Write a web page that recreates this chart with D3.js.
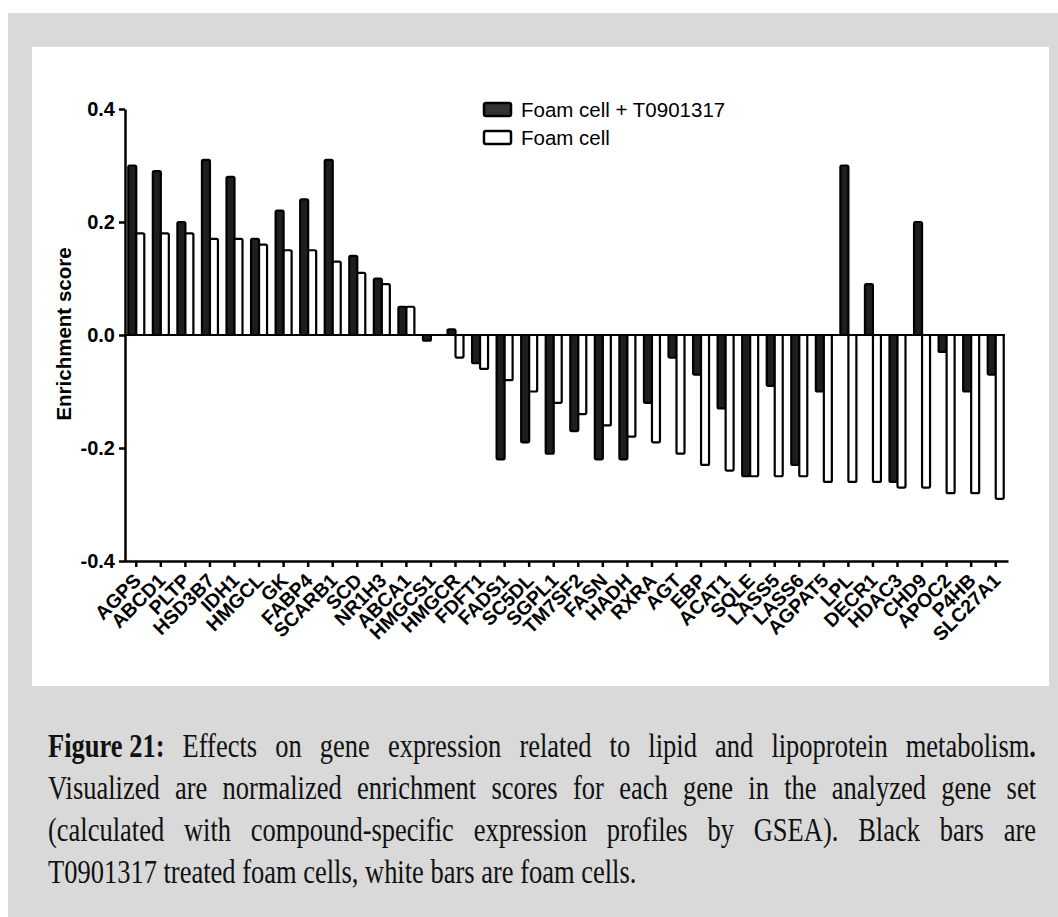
<!DOCTYPE html>
<html>
<head>
<meta charset="utf-8">
<script src="https://cdnjs.cloudflare.com/ajax/libs/d3/7.8.5/d3.min.js"></script>
<style>
body{ margin:0; padding:0; background:#fff; }
svg{ display:block; }
.chart text{ font-family:"Liberation Sans", Arial, sans-serif; }
.caption text{ font-family:"Liberation Serif", "Times New Roman", serif; }
</style>
</head>
<body>
<div id="fig"></div>
<script>
var genes = ["AGPS","ABCD1","PLTP","HSD3B7","IDH1","HMGCL","GK","FABP4","SCARB1","SCD","NR1H3","ABCA1",
    "HMGCS1","HMGCR","FDFT1","FADS1","SC5DL","SGPL1","TM7SF2","FASN","HADH","RXRA","AGT","EBP",
    "ACAT1","SQLE","LASS5","LASS6","AGPAT5","LPL","DECR1","HDAC3","CHD9","APOC2","P4HB","SLC27A1"];
// black bars
var treated = [0.30,0.29,0.20,0.31,0.28,0.17,0.22,0.24,0.31,0.14,0.10,0.05,
    -0.01,0.01,-0.05,-0.22,-0.19,-0.21,-0.17,-0.22,-0.22,-0.12,-0.04,-0.07,
    -0.13,-0.25,-0.09,-0.23,-0.10,0.30,0.09,-0.26,0.20,-0.03,-0.10,-0.07];
// white bars
var foam = [0.18,0.18,0.18,0.17,0.17,0.16,0.15,0.15,0.13,0.11,0.09,0.05,
    0.00,-0.04,-0.06,-0.08,-0.10,-0.12,-0.14,-0.16,-0.18,-0.19,-0.21,-0.23,
    -0.24,-0.25,-0.25,-0.25,-0.26,-0.26,-0.26,-0.27,-0.27,-0.28,-0.28,-0.29];
var yTicks = [-0.4,-0.2,0.0,0.2,0.4];
var seriesNames = ["Foam cell + T0901317","Foam cell"];
var captionLines = [
    [["Figure 21:",1],["Effects",0],["on",0],["gene",0],["expression",0],["related",0],["to",0],["lipid",0],["and",0],["lipoprotein",0],["metabolism",0,"."]],
    [["Visualized",0],["are",0],["normalized",0],["enrichment",0],["scores",0],["for",0],["each",0],["gene",0],["in",0],["the",0],["analyzed",0],["gene",0],["set",0]],
    [["(calculated",0],["with",0],["compound-specific",0],["expression",0],["profiles",0],["by",0],["GSEA).",0],["Black",0],["bars",0],["are",0]],
    [["T0901317 treated foam cells, white bars are foam cells.",0]]
];

var W = 1058, H = 917;
var svg = d3.select("#fig").append("svg").attr("width", W).attr("height", H);
svg.append("rect").attr("x", 8).attr("y", 13).attr("width", W-8).attr("height", H-13).attr("fill", "#d9d9d9");
svg.append("rect").attr("x", 32).attr("y", 47).attr("width", 1017).attr("height", 639).attr("fill", "#fff");

var g = svg.append("g").attr("class", "chart");
var x = d3.scaleBand().domain(genes).range([124, 1008]);
var y = d3.scaleLinear().domain([-0.4, 0.4]).range([561, 109]);
var bw = 8;

// zero line
g.append("line").attr("x1", 125).attr("x2", 1005).attr("y1", y(0)).attr("y2", y(0))
    .attr("stroke", "#000").attr("stroke-width", 2.2);

function bars(vals, cls, fill, off){
    g.selectAll("rect." + cls).data(vals).enter().append("rect")
        .attr("class", cls)
        .attr("x", function(d, i){ return x(genes[i]) + x.bandwidth()/2 + off; })
        .attr("y", function(d){ return Math.min(y(d), y(0)); })
        .attr("width", bw)
        .attr("height", function(d){ return Math.abs(y(d) - y(0)); })
        .attr("rx", 1.5)
        .attr("fill", fill).attr("stroke", "#000").attr("stroke-width", 2.2);
}
bars(treated, "t", "#1e1e1e", -bw);
bars(foam, "f", "#fff", 0);

// y axis
var ya = g.append("g").attr("transform", "translate(125,0)")
    .call(d3.axisLeft(y).tickValues(yTicks).tickSize(6).tickSizeOuter(0).tickPadding(4)
        .tickFormat(function(d){ return d.toFixed(1); }));
ya.select(".domain").attr("stroke-width", 2.5);
ya.selectAll(".tick line").attr("stroke-width", 2.5);
ya.selectAll("text").attr("font-size", 20).attr("font-weight", "bold").attr("font-family", null);

// x axis
var xa = g.append("g").attr("transform", "translate(0,561)")
    .call(d3.axisBottom(x).tickSize(6).tickSizeOuter(0));
xa.select(".domain").attr("stroke-width", 2.5);
xa.selectAll(".tick line").attr("stroke-width", 2.5);
xa.selectAll(".tick text")
    .attr("font-size", 19.5).attr("font-weight", "bold").attr("font-family", null)
    .attr("text-anchor", "end")
    .attr("transform", "translate(1,16) rotate(-45)")
    .attr("x", 0).attr("y", 0).attr("dy", "0.35em");

// y label
g.append("text").attr("transform", "translate(71,334) rotate(-90)")
    .attr("text-anchor", "middle").attr("font-size", 20.5).attr("font-weight", "bold")
    .text("Enrichment score");

// legend
var lg = g.selectAll("g.leg").data(seriesNames).enter().append("g").attr("class", "leg")
    .attr("transform", function(d, i){ return "translate(484," + (103 + i*28) + ")"; });
lg.append("rect").attr("width", 27).attr("height", 13).attr("rx", 2)
    .attr("fill", function(d, i){ return i ? "#fff" : "#333"; })
    .attr("stroke", "#000").attr("stroke-width", 2.5);
lg.append("text").attr("x", 37).attr("y", 14).attr("font-size", 20.5).text(function(d){ return d; });

// caption, justified word by word
var cap = svg.append("g").attr("class", "caption");
var left = 48, right = 1036, sy = 1.3;
captionLines.forEach(function(words, li){
    var lineG = cap.append("g").attr("transform", "translate(0," + (757 + li*42) + ") scale(1," + sy + ")");
    var t = lineG.append("text").attr("font-size", 26.5).attr("fill", "#111");
    var spans = words.map(function(w){
        var s = t.append("tspan").attr("font-weight", w[1] ? "bold" : "normal").text(w[0]);
        if(w[2]){ s.append("tspan").attr("font-weight", "bold").text(w[2]); }
        return s;
    });
    var widths = spans.map(function(s){ return s.node().getComputedTextLength(); });
    var total = d3.sum(widths);
    var last = li == captionLines.length - 1;
    var gap = (!last && words.length > 1) ? (right - left - total)/(words.length - 1) : 0;
    var cx = left;
    spans.forEach(function(s, i){ s.attr("x", cx); cx += widths[i] + gap; });
});
</script>
</body>
</html>
